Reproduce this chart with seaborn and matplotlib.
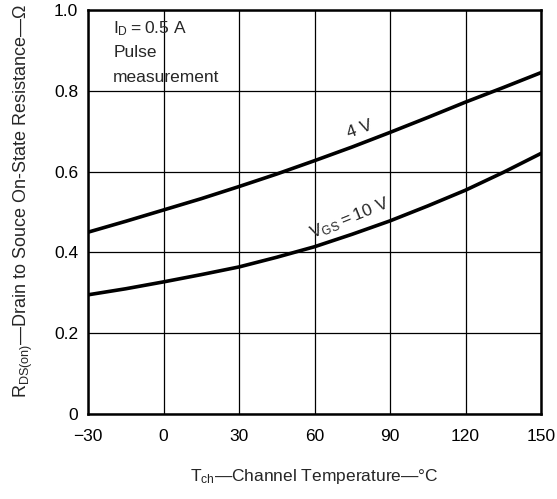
import numpy as np
import pandas as pd
import matplotlib
matplotlib.use("Agg")
import matplotlib.pyplot as plt
import seaborn as sns

# values
temp = [-30, -15, 0, 15, 30, 45, 60, 75, 90, 105, 120, 135, 150]
r_4v = [0.450, 0.477, 0.505, 0.533, 0.563, 0.594, 0.627, 0.661, 0.697, 0.734, 0.772, 0.808, 0.845]
r_10v = [0.295, 0.310, 0.327, 0.345, 0.364, 0.388, 0.414, 0.445, 0.478, 0.515, 0.554, 0.598, 0.645]
x_ticks = [-30, 0, 30, 60, 90, 120, 150]
y_ticks = [0, 0.2, 0.4, 0.6, 0.8, 1.0]
y_ticklabels = ["0", "0.2", "0.4", "0.6", "0.8", "1.0"]

df = pd.DataFrame({
    "temp": temp * 2,
    "rds": r_4v + r_10v,
    "vgs": ["4 V"] * len(temp) + ["10 V"] * len(temp),
})

sns.set_style("white")
plt.rcParams["font.family"] = ["Liberation Sans", "DejaVu Sans"]
plt.rcParams["mathtext.fontset"] = "custom"
plt.rcParams["mathtext.rm"] = "Liberation Sans"

FS = 12.5

fig = plt.figure(figsize=(5.57, 4.99), dpi=100)
ax = fig.add_axes([88 / 557, 1 - 414 / 499, (541 - 88) / 557, (414 - 10) / 499])

sns.lineplot(data=df, x="temp", y="rds", hue="vgs", palette=["black", "black"],
             linewidth=2.6, legend=False, ax=ax)

ax.set_xlim(-30, 150)
ax.set_ylim(0, 1.0)
ax.set_xticks(x_ticks)
ax.set_yticks(y_ticks)
ax.set_yticklabels(y_ticklabels)
ax.grid(True, color="black", linewidth=0.9)
ax.tick_params(axis="both", length=0, labelsize=FS, colors="black")
ax.tick_params(axis="x", pad=11)
ax.tick_params(axis="y", pad=7)
for s in ax.spines.values():
    s.set_visible(True)
    s.set_color("black")
    s.set_linewidth(1.8)
ax.set_xlabel("")
ax.set_ylabel("")

# inset conditions text
ax.text(-20, 0.955, r"$\mathregular{I_D{=}0.5\ A}$", fontsize=FS, va="center")
ax.text(-20, 0.895, "Pulse", fontsize=FS, va="center")
ax.text(-20, 0.833, "measurement", fontsize=FS, va="center")

# curve labels
ax.text(78, 0.705, "4 V", fontsize=FS, rotation=20, ha="center", va="center")
ax.text(74, 0.485, r"$\mathregular{V_{GS}{=}10\ V}$", fontsize=FS, rotation=22,
        ha="center", va="center")

fig.text(314 / 557, 1 - 476 / 499, r"$\mathregular{T_{ch}}$—Channel Temperature—°C",
         fontsize=FS, ha="center", va="center")
fig.text(23 / 557, 1 - 398 / 499,
         r"$\mathregular{R_{DS(on)}}$—Drain to Souce On-State Resistance—Ω",
         fontsize=13, rotation=90, ha="center", va="bottom")

fig.savefig("out.png", dpi=100)
